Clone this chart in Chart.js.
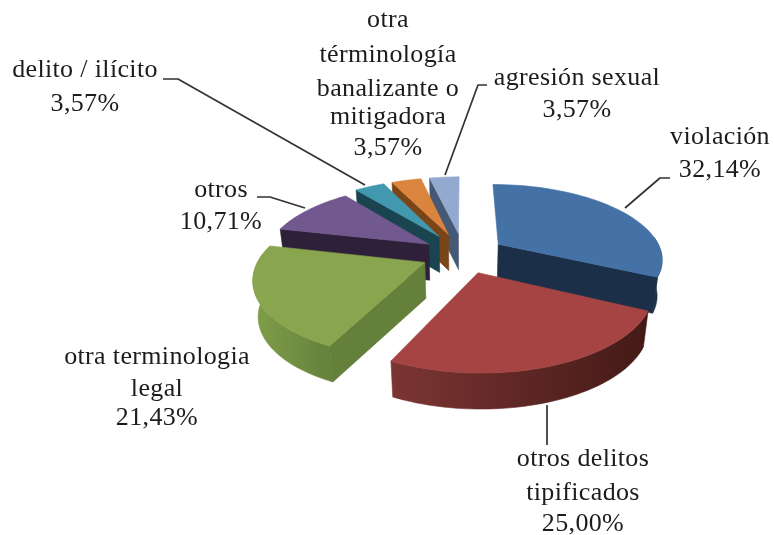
<!DOCTYPE html>
<html lang="es">
<head>
<meta charset="utf-8">
<style>html,body{margin:0;padding:0;background:#fff}canvas{display:block;filter:blur(.55px)}</style>
<script src="https://cdn.jsdelivr.net/npm/chart.js@4"></script>
</head>
<body>
<canvas id="c" width="774" height="535"></canvas>
<script>
const categories = ["violación","otros delitos tipificados","otra terminologia legal","otros","delito / ilícito","otra términología banalizante o mitigadora","agresión sexual"];
const values = [32.14,25.00,21.43,10.71,3.57,3.57,3.57];
const labelLines = [["violación"],["otros delitos","tipificados"],["otra terminologia","legal"],["otros"],["delito / ilícito"],["otra","términología","banalizante o","mitigadora"],["agresión sexual"]];

const topColors = ["#4472A6","#A54442","#89A54E","#71588F","#4198AF","#DB843D","#93A9CF"];
const sideDark = ["#1B2F48","#441A17","#64803A","#2D2038","#1A4450","#7A4517","#465974"];
const rimLeft  = ["#1B2F48","#7B3533","#7F9C4A","#2D2038","#1A4450","#7A4517","#465974"];
const offsets = [42,42,42,42,48,48,48];
const labelX = [720,583,157,221,85,388,577];
const labelY = [[137,170],[459,493,524],[357,389,418],[190,222],[70,104],[20,55,89,117,148],[78,110]];
const leaders = [
  [[670,178],[660,178],[625,208]],
  [[547,405],[547,445]],
  [],
  [[257,197],[270,197],[305,208]],
  [[163,79],[178,79],[365,185]],
  [],
  [[487,85],[478,85],[445,175]]
];
const drawOrder = [6,5,4,3,0,2,1];
const PERSP = 0.184, TILT = 0.451, DEPTH = 36, NARROW = 0.0007, RADIUS = 164;

const pie3d = {
  id:'pie3d',
  beforeDatasetsDraw(chart){
    const ctx = chart.ctx, arcs = chart.getDatasetMeta(0).data;
    const pt = (el,a,r,mid,z)=>{
      const R = el.outerRadius, off = el.options.offset;
      const X = r*Math.cos(a)+off*Math.cos(mid), V = -r*Math.sin(a)-off*Math.sin(mid);
      const s = 1/(1+PERSP*V/R);
      return [el.x+X*s*(1-NARROW*z), el.y-V*TILT*s+z];
    };
    const poly = (points,fill)=>{
      ctx.beginPath();
      points.forEach((p,i)=>i?ctx.lineTo(p[0],p[1]):ctx.moveTo(p[0],p[1]));
      ctx.closePath(); ctx.fillStyle=fill; ctx.fill(); ctx.strokeStyle=fill; ctx.lineWidth=.6; ctx.stroke();
    };
    drawOrder.forEach(i=>{
      const el = arcs[i], R = el.outerRadius, mid=(el.startAngle+el.endAngle)/2;
      const a0=el.startAngle,a1=el.endAngle, N=48;
      const apexT = pt(el,0,0,mid,0), apexB = pt(el,0,0,mid,DEPTH);
      if(Math.cos(a0) < -0.01) poly([apexT,pt(el,a0,R,mid,0),pt(el,a0,R,mid,DEPTH),apexB],sideDark[i]);
      if(Math.cos(a1) > 0.01) poly([apexT,pt(el,a1,R,mid,0),pt(el,a1,R,mid,DEPTH),apexB],sideDark[i]);
      const rim=[], tops=[];
      for(let k=0;k<=N;k++){
        const a=a0+(a1-a0)*k/N;
        tops.push(pt(el,a,R,mid,0));
        if(Math.sin(a) > -0.12) rim.push(a);
      }
      if(rim.length>1){
        const t = rim.map(a=>pt(el,a,R,mid,0)), b = rim.map(a=>pt(el,a,R,mid,DEPTH));
        const xs = b.map(p=>p[0]);
        const g = ctx.createLinearGradient(Math.min(...xs),0,Math.max(...xs),0);
        g.addColorStop(0,rimLeft[i]); g.addColorStop(1,sideDark[i]);
        poly(t.concat(b.slice().reverse()),g);
      }
      poly([apexT].concat(tops),el.options.backgroundColor);
    });
    ctx.strokeStyle='#333'; ctx.lineWidth=1.7; ctx.lineJoin='round';
    leaders.forEach(l=>{
      if(!l.length) return;
      ctx.beginPath();
      l.forEach((p,i)=>i?ctx.lineTo(p[0],p[1]):ctx.moveTo(p[0],p[1]));
      ctx.stroke();
    });
    ctx.fillStyle='#1c1c1c'; ctx.font='26px "Liberation Serif"'; ctx.textAlign='center'; ctx.textBaseline='middle';
    ctx.letterSpacing='0.35px';
    labelLines.forEach((lines,i)=>{
      const all = lines.concat(values[i].toFixed(2).replace('.',',')+'%');
      all.forEach((t,j)=>ctx.fillText(t,labelX[i],labelY[i][j]));
    });
    return false;
  }
};

new Chart(document.getElementById('c'),{
  type:'pie',
  data:{labels:categories,datasets:[{data:values,backgroundColor:topColors,offset:offsets,borderWidth:0}]},
  options:{
    responsive:false,animation:false,radius:RADIUS,
    layout:{padding:{left:153,right:0,top:0,bottom:27}},
    plugins:{legend:{display:false},tooltip:{enabled:false}}
  },
  plugins:[pie3d]
});
</script>
</body>
</html>
